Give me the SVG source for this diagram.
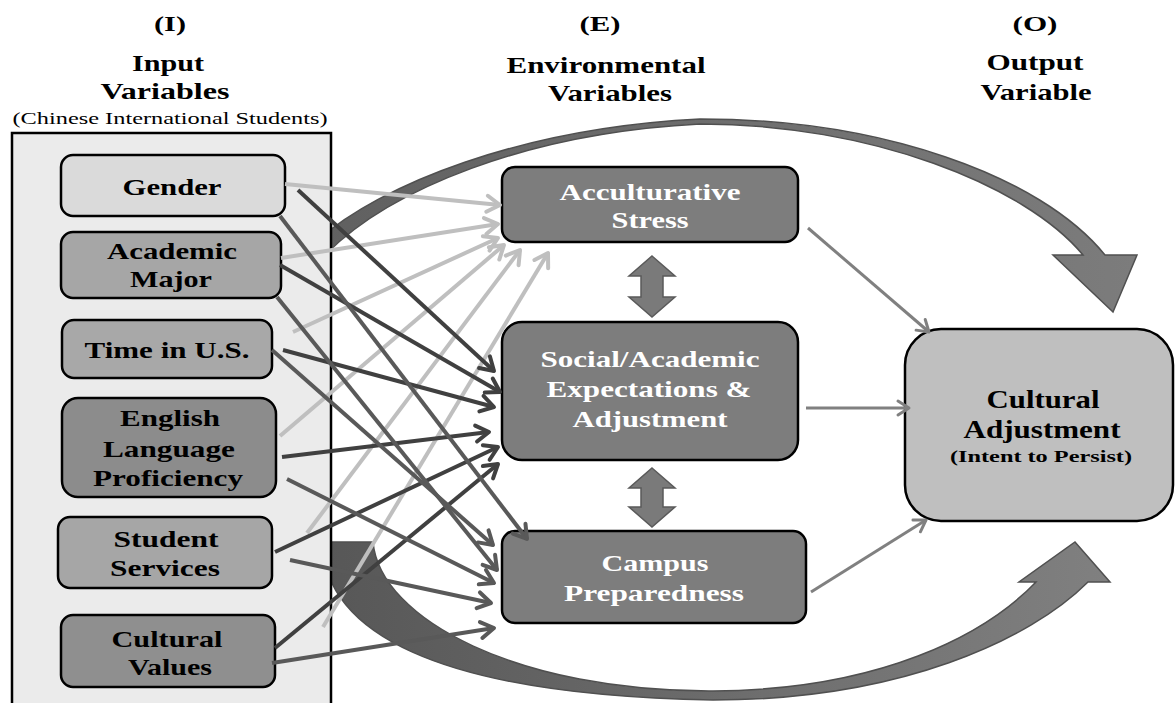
<svg xmlns="http://www.w3.org/2000/svg" width="1175" height="703" viewBox="0 0 1175 703">
<style>
.t{font-family:"Liberation Serif","Times New Roman",serif;font-weight:bold;text-anchor:middle}
.tb{fill:#000;font-size:24px}
.tw{fill:#fff;font-size:24px}
.box{stroke:#000;stroke-width:2.5}
.cl{stroke:#bfbfbf;stroke-width:4;fill:none;marker-end:url(#mL)}
.cd{stroke:#404040;stroke-width:4;fill:none;marker-end:url(#mD)}
.cm{stroke:#595959;stroke-width:4;fill:none;marker-end:url(#mM)}
.co{stroke:#808080;stroke-width:3;fill:none;marker-end:url(#mO)}
.dbl{fill:#7a7a7a;stroke:#5a5a5a;stroke-width:1.5}
</style>
<defs>
<marker id="mL" viewBox="-18 -11 24 22" markerWidth="24" markerHeight="22" refX="0" refY="0" orient="auto" markerUnits="userSpaceOnUse"><path d="M-13,-8 L0,0 L-13,8" fill="none" stroke="#bfbfbf" stroke-width="4" stroke-linejoin="round" stroke-linecap="round"/></marker>
<marker id="mD" viewBox="-18 -11 24 22" markerWidth="24" markerHeight="22" refX="0" refY="0" orient="auto" markerUnits="userSpaceOnUse"><path d="M-13,-8 L0,0 L-13,8" fill="none" stroke="#404040" stroke-width="4" stroke-linejoin="round" stroke-linecap="round"/></marker>
<marker id="mM" viewBox="-18 -11 24 22" markerWidth="24" markerHeight="22" refX="0" refY="0" orient="auto" markerUnits="userSpaceOnUse"><path d="M-13,-8 L0,0 L-13,8" fill="none" stroke="#595959" stroke-width="4" stroke-linejoin="round" stroke-linecap="round"/></marker>
<marker id="mO" viewBox="-16 -10 22 20" markerWidth="22" markerHeight="20" refX="0" refY="0" orient="auto" markerUnits="userSpaceOnUse"><path d="M-11,-7 L0,0 L-11,7" fill="none" stroke="#808080" stroke-width="3" stroke-linejoin="round" stroke-linecap="round"/></marker>
<linearGradient id="gTop" x1="0" y1="0" x2="1" y2="0"><stop offset="0" stop-color="#606060"/><stop offset="1" stop-color="#7c7c7c"/></linearGradient>
<linearGradient id="gBot" x1="0" y1="0" x2="1" y2="0"><stop offset="0" stop-color="#575757"/><stop offset="1" stop-color="#808080"/></linearGradient>
</defs>
<rect width="1175" height="703" fill="#fff"/>

<g id="arcs">
<path d="M318,240 C380,185 520,128 700,119 C880,119 1040,175 1105,255 L1137,255 L1113,312 L1053,255 L1083,255 C1025,185 870,124 700,124 C525,133 390,190 326,254 Z" fill="url(#gTop)" stroke="#505050" stroke-width="1.5"/>
<path d="M322,542 L373,542 C380,620 520,692 713,691 C880,690 985,635 1036,582 L1019,582 L1075,542 L1110,582 L1088,582 C1030,640 900,700 713,700 C430,695 325,630 322,542 Z" fill="url(#gBot)" stroke="#505050" stroke-width="1.5"/>
</g>

<g id="panel">
<rect x="12" y="133" width="319" height="590" fill="#ebebeb" stroke="#000" stroke-width="2.5"/>
</g>

<g id="titles">
<text class="t tb" x="170" y="31" font-size="22" textLength="32" lengthAdjust="spacingAndGlyphs" style="font-size:22px">(I)</text>
<text class="t tb" x="168" y="71" textLength="72" lengthAdjust="spacingAndGlyphs">Input</text>
<text class="t tb" x="165" y="99" textLength="129" lengthAdjust="spacingAndGlyphs">Variables</text>
<text x="170" y="124" font-family="Liberation Serif, Times New Roman, serif" font-size="17" text-anchor="middle" textLength="315" lengthAdjust="spacingAndGlyphs">(Chinese International Students)</text>
<text class="t tb" x="600" y="31" textLength="41" lengthAdjust="spacingAndGlyphs" style="font-size:22px">(E)</text>
<text class="t tb" x="606" y="73" textLength="199" lengthAdjust="spacingAndGlyphs">Environmental</text>
<text class="t tb" x="610" y="101" textLength="124" lengthAdjust="spacingAndGlyphs">Variables</text>
<text class="t tb" x="1035" y="31" textLength="45" lengthAdjust="spacingAndGlyphs" style="font-size:22px">(O)</text>
<text class="t tb" x="1035" y="70" textLength="97" lengthAdjust="spacingAndGlyphs">Output</text>
<text class="t tb" x="1036" y="100" textLength="111" lengthAdjust="spacingAndGlyphs">Variable</text>
</g>

<g id="gender">
<rect class="box" x="61" y="155" width="224" height="61" rx="12" fill="#dadada"/>
<text class="t tb" x="172" y="195" textLength="99" lengthAdjust="spacingAndGlyphs">Gender</text>
</g>
<g id="academic-major">
<rect class="box" x="61" y="232" width="220" height="66" rx="12" fill="#a6a6a6"/>
<text class="t tb" x="172" y="259" textLength="130" lengthAdjust="spacingAndGlyphs">Academic</text>
<text class="t tb" x="171" y="287" textLength="82" lengthAdjust="spacingAndGlyphs">Major</text>
</g>
<g id="time-in-us">
<rect class="box" x="62" y="320" width="210" height="58" rx="12" fill="#a8a8a8"/>
<text class="t tb" x="167" y="358" textLength="165" lengthAdjust="spacingAndGlyphs">Time in U.S.</text>
</g>
<g id="english">
<rect class="box" x="62" y="398" width="214" height="99" rx="16" fill="#8c8c8c"/>
<text class="t tb" x="170" y="426" textLength="100" lengthAdjust="spacingAndGlyphs">English</text>
<text class="t tb" x="169" y="457" textLength="132" lengthAdjust="spacingAndGlyphs">Language</text>
<text class="t tb" x="168" y="486" textLength="150" lengthAdjust="spacingAndGlyphs">Proficiency</text>
</g>
<g id="student-services">
<rect class="box" x="58" y="517" width="214" height="71" rx="12" fill="#a6a6a6"/>
<text class="t tb" x="166" y="547" textLength="105" lengthAdjust="spacingAndGlyphs">Student</text>
<text class="t tb" x="165" y="576" textLength="110" lengthAdjust="spacingAndGlyphs">Services</text>
</g>
<g id="cultural-values">
<rect class="box" x="61" y="615" width="214" height="72" rx="12" fill="#8f8f8f"/>
<text class="t tb" x="167" y="647" textLength="111" lengthAdjust="spacingAndGlyphs">Cultural</text>
<text class="t tb" x="170" y="675" textLength="84" lengthAdjust="spacingAndGlyphs">Values</text>
</g>

<g id="acculturative-stress">
<rect class="box" x="502" y="167" width="296" height="75" rx="13" fill="#7d7d7d"/>
<text class="t tw" x="650" y="200" textLength="181" lengthAdjust="spacingAndGlyphs">Acculturative</text>
<text class="t tw" x="650" y="228" textLength="77" lengthAdjust="spacingAndGlyphs">Stress</text>
</g>
<g id="social-academic">
<rect class="box" x="502" y="322" width="296" height="138" rx="20" fill="#7d7d7d"/>
<text class="t tw" x="650" y="367" textLength="219" lengthAdjust="spacingAndGlyphs">Social/Academic</text>
<text class="t tw" x="649" y="397" textLength="205" lengthAdjust="spacingAndGlyphs">Expectations &amp;</text>
<text class="t tw" x="650" y="427" textLength="155" lengthAdjust="spacingAndGlyphs">Adjustment</text>
</g>
<g id="campus-preparedness">
<rect class="box" x="502" y="531" width="304" height="92" rx="13" fill="#7d7d7d"/>
<text class="t tw" x="655" y="571" textLength="107" lengthAdjust="spacingAndGlyphs">Campus</text>
<text class="t tw" x="654" y="601" textLength="180" lengthAdjust="spacingAndGlyphs">Preparedness</text>
</g>

<g id="cultural-adjustment">
<rect class="box" x="905" y="329" width="268" height="192" rx="36" fill="#bfbfbf"/>
<text class="t tb" x="1043" y="408" textLength="113" lengthAdjust="spacingAndGlyphs" style="font-size:25px">Cultural</text>
<text class="t tb" x="1042" y="438" textLength="157" lengthAdjust="spacingAndGlyphs" style="font-size:25px">Adjustment</text>
<text class="t tb" x="1041" y="462" textLength="182" lengthAdjust="spacingAndGlyphs" style="font-size:17px">(Intent to Persist)</text>
</g>

<g id="connectors">
<line class="cl" x1="285" y1="184" x2="500" y2="205"/>
<line class="cl" x1="281" y1="258" x2="498" y2="224"/>
<line class="cl" x1="293" y1="332" x2="498" y2="238"/>
<line class="cl" x1="280" y1="436" x2="504" y2="245"/>
<line class="cl" x1="307" y1="533" x2="520" y2="250"/>
<line class="cl" x1="323" y1="627" x2="548" y2="253"/>

<line class="cd" x1="298" y1="190" x2="494" y2="371"/>
<line class="cd" x1="280" y1="265" x2="500" y2="392"/>
<line class="cd" x1="283" y1="350" x2="494" y2="407"/>
<line class="cd" x1="282" y1="457" x2="489" y2="432"/>
<line class="cd" x1="275" y1="552" x2="498" y2="447"/>
<line class="cd" x1="275" y1="648" x2="498" y2="464"/>

<line class="cm" x1="280" y1="216" x2="527" y2="539"/>
<line class="cm" x1="277" y1="297" x2="497" y2="570"/>
<line class="cm" x1="272" y1="350" x2="493" y2="545"/>
<line class="cm" x1="287" y1="479" x2="494" y2="583"/>
<line class="cm" x1="290" y1="560" x2="491" y2="603"/>
<line class="cm" x1="272" y1="663" x2="494" y2="628"/>

<line class="co" x1="808" y1="228" x2="929" y2="332"/>
<line class="co" x1="806" y1="408" x2="909" y2="408"/>
<line class="co" x1="811" y1="592" x2="926" y2="520"/>

<path class="dbl" d="M652,256 L675,276 L663,276 L663,297 L675,297 L652,317 L629,297 L641,297 L641,276 L629,276 Z"/>
<path class="dbl" d="M652,468 L675,488 L663,488 L663,507 L675,507 L652,527 L629,507 L641,507 L641,488 L629,488 Z"/>
</g>
</svg>
